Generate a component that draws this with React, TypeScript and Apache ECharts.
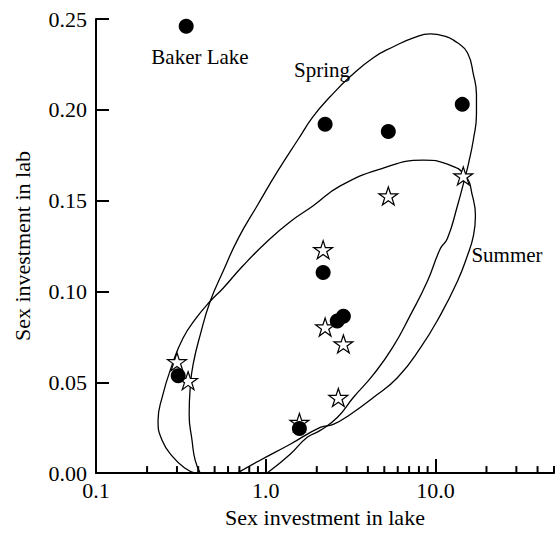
import React, { useEffect, useRef } from "react";
import * as echarts from "echarts";

// Spring samples (filled circles): [sex investment in lake, sex investment in lab]
const SPRING_POINTS: number[][] = [
  [0.34, 0.246],
  [2.24, 0.192],
  [5.28, 0.188],
  [14.4, 0.203],
  [2.18, 0.1105],
  [2.64, 0.0837],
  [2.87, 0.0864],
  [0.305, 0.0536],
  [1.58, 0.0245],
];

// Summer samples (open stars)
const SUMMER_POINTS: number[][] = [
  [14.6, 0.1636],
  [5.28, 0.1526],
  [2.18, 0.123],
  [2.24, 0.0804],
  [2.87, 0.0711],
  [2.68, 0.0416],
  [1.58, 0.0279],
  [0.3, 0.0613],
  [0.349, 0.0509],
];

// Spring ellipse outline
const SPRING_ELLIPSE: number[][] = [
  [0.411, 0.0], [0.384, 0.0071], [0.368, 0.0181], [0.354, 0.0323], [0.359, 0.047],
  [0.373, 0.0596], [0.411, 0.076], [0.471, 0.0946], [0.561, 0.1111], [0.688, 0.1291],
  [0.891, 0.1472], [1.169, 0.1658], [1.555, 0.1838], [1.906, 0.1964], [2.402, 0.2073],
  [3.151, 0.2183], [4.308, 0.2287], [5.652, 0.2347], [7.418, 0.2396], [9.343, 0.2418],
  [11.15, 0.2407], [13.49, 0.2369], [15.45, 0.2314], [16.76, 0.2194], [17.46, 0.2084],
  [17.46, 0.1975], [16.76, 0.1838], [15.65, 0.1701], [15.03, 0.1636], [13.49, 0.1472],
  [11.77, 0.1291], [10.7, 0.1236], [8.97, 0.1056], [7.12, 0.087], [5.576, 0.0689],
  [4.308, 0.0542], [3.283, 0.0416], [2.641, 0.0306], [2.097, 0.0235], [1.757, 0.0197],
  [1.394, 0.0104], [1.02, 0.0],
];

// Summer ellipse outline
const SUMMER_ELLIPSE: number[][] = [
  [0.384, 0.0], [0.335, 0.0027], [0.2846, 0.0088], [0.2451, 0.0181], [0.2321, 0.029],
  [0.2451, 0.0416], [0.2808, 0.0596], [0.326, 0.0744], [0.389, 0.0853], [0.471, 0.0946],
  [0.561, 0.1018], [0.737, 0.1143], [1.02, 0.1275], [1.394, 0.1384], [1.906, 0.1472],
  [2.751, 0.1581], [4.738, 0.1674], [8.496, 0.1723], [11.77, 0.1701], [15.03, 0.1636],
  [16.53, 0.1526], [17.22, 0.1417], [16.76, 0.1307], [15.45, 0.1198], [13.49, 0.1056],
  [10.7, 0.087], [8.157, 0.0689], [5.969, 0.0525], [4.308, 0.0416], [3.151, 0.0323],
  [2.501, 0.0268], [2.097, 0.0252], [1.394, 0.0159], [0.928, 0.0071], [0.679, 0.0],
];

const X_MAJOR_TICKS = [0.1, 1, 10];
const X_MINOR_TICKS = [
  0.2, 0.3, 0.4, 0.5, 0.6, 0.7, 0.8, 0.9,
  2, 3, 4, 5, 6, 7, 8, 9,
  20, 30, 40, 50,
];

const FONT = "'Liberation Serif', 'Times New Roman', serif";
const STAR =
  "path://M50 0 L61.23 34.55 L97.55 34.55 L68.17 55.9 L79.39 90.45 L50 69.1 L20.61 90.45 L31.83 55.9 L2.45 34.55 L38.77 34.55 Z";

export default function App() {
  const ref = useRef<HTMLDivElement>(null);

  useEffect(() => {
    document.body.style.margin = "0";
    if (!ref.current) return;
    const chart = echarts.init(ref.current, undefined, { renderer: "svg" });
    const textStyle = { fontFamily: FONT, fontSize: 22, color: "#000" };
    const noteFont = `21px ${FONT}`;
    chart.setOption({
      animation: false,
      backgroundColor: "#fff",
      grid: { left: 96, right: 5, top: 19, bottom: 57, containLabel: false },
      xAxis: {
        type: "log",
        logBase: 10,
        min: 0.1,
        max: 50,
        name: "Sex investment in lake",
        nameLocation: "middle",
        nameGap: 32,
        nameTextStyle: { ...textStyle },
        axisLine: { show: true, onZero: false, lineStyle: { color: "#000", width: 2 } },
        axisTick: {
          show: true,
          inside: true,
          length: 14,
          customValues: X_MAJOR_TICKS,
          lineStyle: { color: "#000", width: 2 },
        },
        axisLabel: {
          ...textStyle,
          margin: 6,
          customValues: X_MAJOR_TICKS,
          formatter: (v: number) => Number(v).toFixed(1),
        },
        splitLine: { show: false },
        minorTick: { show: false },
      },
      yAxis: {
        type: "value",
        min: 0,
        max: 0.25,
        interval: 0.05,
        name: "Sex investment in lab",
        nameLocation: "middle",
        nameGap: 63,
        nameTextStyle: { ...textStyle },
        axisLine: { show: true, lineStyle: { color: "#000", width: 2 } },
        axisTick: { show: true, inside: true, length: 13, lineStyle: { color: "#000", width: 2 } },
        axisLabel: {
          ...textStyle,
          margin: 9,
          formatter: (v: number) => Number(v).toFixed(2),
        },
        splitLine: { show: false },
      },
      series: [
        {
          type: "scatter",
          data: X_MINOR_TICKS.map((v) => [v, 0]),
          symbol: "rect",
          symbolSize: [2, 7],
          symbolOffset: [0, -3.5],
          itemStyle: { color: "#000", opacity: 1 },
          clip: false,
          silent: true,
          z: 5,
        },
        {
          type: "line",
          data: SPRING_ELLIPSE,
          smooth: 0.5,
          showSymbol: false,
          symbol: "none",
          clip: true,
          lineStyle: { color: "#000", width: 1.3 },
          z: 2,
        },
        {
          type: "line",
          data: SUMMER_ELLIPSE,
          smooth: 0.5,
          showSymbol: false,
          symbol: "none",
          clip: true,
          lineStyle: { color: "#000", width: 1.3 },
          z: 2,
        },
        {
          type: "scatter",
          data: SUMMER_POINTS,
          symbol: STAR,
          symbolSize: [19, 18],
          itemStyle: { color: "#fff", borderColor: "#000", borderWidth: 1.2, opacity: 1 },
          z: 3,
        },
        {
          type: "scatter",
          data: SPRING_POINTS,
          symbol: "circle",
          symbolSize: 15,
          itemStyle: { color: "#000", opacity: 1 },
          z: 4,
        },
      ],
      graphic: [
        {
          type: "text",
          x: 200,
          y: 57,
          style: { text: "Baker Lake", font: noteFont, fill: "#000", align: "center", verticalAlign: "middle" },
        },
        {
          type: "text",
          x: 322,
          y: 70,
          style: { text: "Spring", font: noteFont, fill: "#000", align: "center", verticalAlign: "middle" },
        },
        {
          type: "text",
          x: 507,
          y: 255,
          style: { text: "Summer", font: noteFont, fill: "#000", align: "center", verticalAlign: "middle" },
        },
      ],
    });
    return () => chart.dispose();
  }, []);

  return <div ref={ref} style={{ width: 559, height: 533 }} />;
}
